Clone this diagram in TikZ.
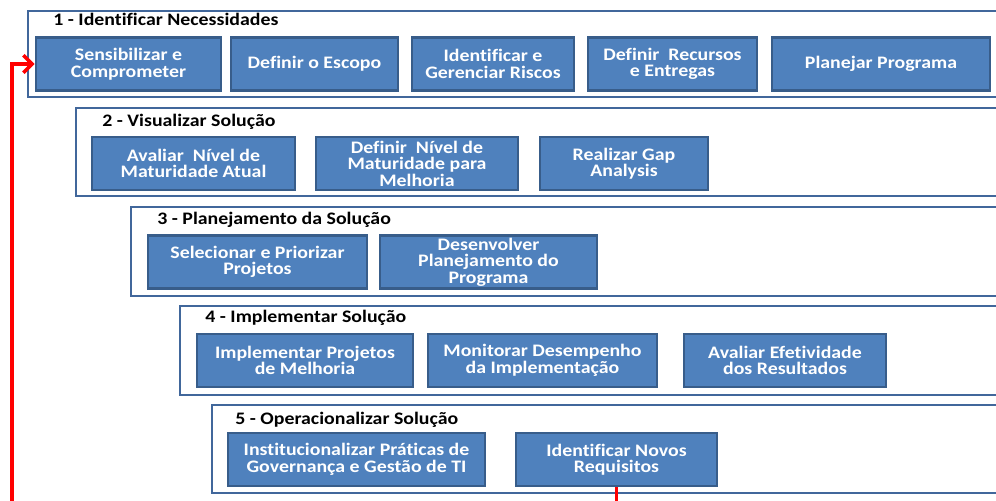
\documentclass[tikz,border=0pt]{standalone}
\usepackage{fontspec}
\setmainfont[FakeStretch=1.13, Ligatures=NoCommon]{Carlito}
\usetikzlibrary{arrows.meta}

\definecolor{boxblue}{HTML}{4F81BD}
\definecolor{boxedge}{HTML}{385D8A}
\definecolor{frameblue}{HTML}{41679B}

\tikzset{
  stepbox/.style={draw=boxedge, line width=1.5pt, fill=boxblue, text=white,
    font=\fontsize{10}{9.4}\selectfont\bfseries, align=center,
    minimum height=1.06cm, inner sep=0pt},
  frame/.style={draw=frameblue, line width=1.1pt, fill=white},
  phase/.style={anchor=base west, inner sep=0pt,
    font=\fontsize{10}{12}\selectfont\bfseries},
  feedback/.style={red, line width=2pt, -{Straight Barb[length=5pt,width=10pt]}}
}

\begin{document}
\begin{tikzpicture}[x=0.02cm, y=-0.02cm]
\useasboundingbox (0,0) rectangle (996,500);
\clip (0,0) rectangle (996,500);

% phase frames
\draw[frame] (28,11)  rectangle (1010,97);
\draw[frame] (76,108) rectangle (1010,196);
\draw[frame] (131,207) rectangle (1010,296);
\draw[frame] (180,306) rectangle (1010,395);
\draw[frame] (212,405) rectangle (1010,493);

\node[phase] (t1) at (53,26)  {1 - Identificar Necessidades};
\node[phase] (t2) at (102,126) {2 - Visualizar Solução};
\node[phase] (t3) at (157,224) {3 - Planejamento da Solução};
\node[phase] (t4) at (205,322) {4 - Implementar Solução};
\node[phase] (t5) at (235,424) {5 - Operacionalizar Solução};

% phase 1
\node[stepbox, minimum width=3.70cm] (b1a) at (128.5,64) {Sensibilizar e\\Comprometer};
\node[stepbox, minimum width=3.34cm] (b1b) at (314.5,64) {Definir o Escopo};
\node[stepbox, minimum width=3.24cm] (b1c) at (493,64)   {Identificar e\\Gerenciar Riscos};
\node[stepbox, minimum width=3.38cm] (b1d) at (672.5,64) {Definir~ Recursos\\e Entregas};
\node[stepbox, minimum width=4.36cm] (b1e) at (881,64)   {Planejar Programa};

% phase 2
\node[stepbox, minimum width=4.06cm] (b2a) at (193.5,163.5) {Avaliar~ Nível de\\Maturidade Atual};
\node[stepbox, minimum width=4.04cm] (b2b) at (417,163.5)   {Definir~ Nível de\\Maturidade para\\Melhoria};
\node[stepbox, minimum width=3.36cm] (b2c) at (624,163.5)   {Realizar Gap\\Analysis};

% phase 3
\node[stepbox, minimum width=4.38cm] (b3a) at (257.5,262) {Selecionar e Priorizar\\Projetos};
\node[stepbox, minimum width=4.34cm] (b3b) at (488.5,262) {Desenvolver\\Planejamento do\\Programa};

% phase 4
\node[stepbox, minimum width=4.32cm] (b4a) at (305,360.5)   {Implementar Projetos\\de Melhoria};
\node[stepbox, minimum width=4.58cm] (b4b) at (542.5,360.5) {Monitorar Desempenho\\da Implementação};
\node[stepbox, minimum width=4.04cm] (b4c) at (785,360.5)   {Avaliar Efetividade\\dos Resultados};

% phase 5
\node[stepbox, minimum width=5.14cm] (b5a) at (356.5,459.5) {Institucionalizar Práticas de\\Governança e Gestão de TI};
\node[stepbox, minimum width=4.02cm] (b5b) at (616.5,459.5) {Identificar Novos\\Requisitos};

% feedback loop
\coordinate (back) at (12,515);
\draw[feedback] (b5b.south) |- (back) |- (b1a.west);

\end{tikzpicture}
\end{document}
